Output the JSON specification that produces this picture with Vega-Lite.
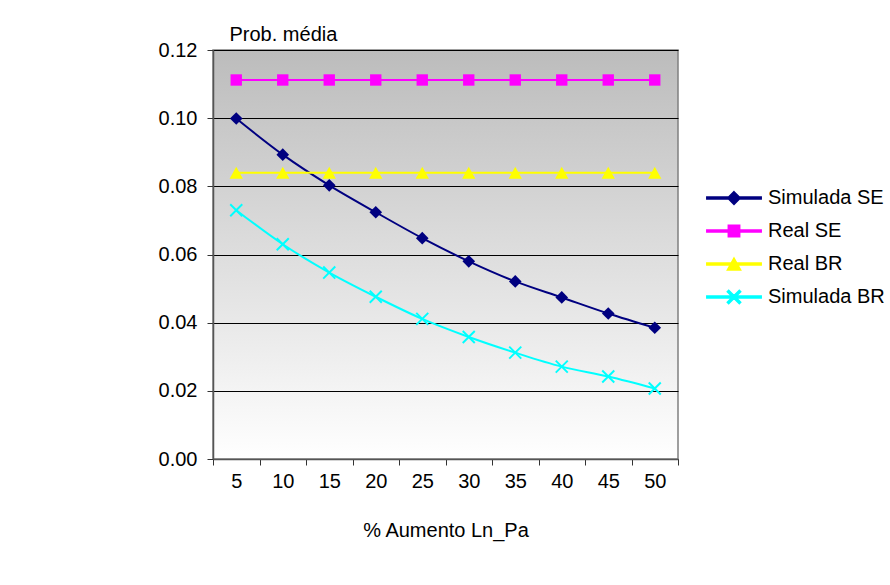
{
  "$schema": "https://vega.github.io/schema/vega-lite/v6.json",
  "autosize": "none",
  "width": 465,
  "height": 409,
  "padding": {"left": 213, "top": 50, "right": 212, "bottom": 126},
  "background": "white",
  "config": {
    "font": "Liberation Sans",
    "view": {"stroke": "#808080", "strokeWidth": 1.5, "fill": {"gradient": "linear", "x1": 0, "y1": 0, "x2": 0, "y2": 1, "stops": [{"offset": 0, "color": "#bcbcbc"}, {"offset": 1, "color": "#ffffff"}]}},
    "axis": {"labelFont": "Liberation Sans", "titleFont": "Liberation Sans", "labelColor": "black", "titleColor": "black", "labelFontSize": 20, "titleFontSize": 20, "titleFontWeight": "normal", "tickColor": "#333333", "domainColor": "#555555", "domainWidth": 1.5}
  },
  "datasets": {
    "probs": [
      {"x": "5", "series": "Simulada SE", "value": 0.0999},
      {"x": "10", "series": "Simulada SE", "value": 0.0893},
      {"x": "15", "series": "Simulada SE", "value": 0.0803},
      {"x": "20", "series": "Simulada SE", "value": 0.0724},
      {"x": "25", "series": "Simulada SE", "value": 0.0648},
      {"x": "30", "series": "Simulada SE", "value": 0.0580},
      {"x": "35", "series": "Simulada SE", "value": 0.0521},
      {"x": "40", "series": "Simulada SE", "value": 0.0474},
      {"x": "45", "series": "Simulada SE", "value": 0.0427},
      {"x": "50", "series": "Simulada SE", "value": 0.0385},
      {"x": "5", "series": "Real SE", "value": 0.1112},
      {"x": "10", "series": "Real SE", "value": 0.1112},
      {"x": "15", "series": "Real SE", "value": 0.1112},
      {"x": "20", "series": "Real SE", "value": 0.1112},
      {"x": "25", "series": "Real SE", "value": 0.1112},
      {"x": "30", "series": "Real SE", "value": 0.1112},
      {"x": "35", "series": "Real SE", "value": 0.1112},
      {"x": "40", "series": "Real SE", "value": 0.1112},
      {"x": "45", "series": "Real SE", "value": 0.1112},
      {"x": "50", "series": "Real SE", "value": 0.1112},
      {"x": "5", "series": "Real BR", "value": 0.0840},
      {"x": "10", "series": "Real BR", "value": 0.0840},
      {"x": "15", "series": "Real BR", "value": 0.0840},
      {"x": "20", "series": "Real BR", "value": 0.0840},
      {"x": "25", "series": "Real BR", "value": 0.0840},
      {"x": "30", "series": "Real BR", "value": 0.0840},
      {"x": "35", "series": "Real BR", "value": 0.0840},
      {"x": "40", "series": "Real BR", "value": 0.0840},
      {"x": "45", "series": "Real BR", "value": 0.0840},
      {"x": "50", "series": "Real BR", "value": 0.0840},
      {"x": "5", "series": "Simulada BR", "value": 0.0730},
      {"x": "10", "series": "Simulada BR", "value": 0.0630},
      {"x": "15", "series": "Simulada BR", "value": 0.0547},
      {"x": "20", "series": "Simulada BR", "value": 0.0476},
      {"x": "25", "series": "Simulada BR", "value": 0.0411},
      {"x": "30", "series": "Simulada BR", "value": 0.0358},
      {"x": "35", "series": "Simulada BR", "value": 0.0312},
      {"x": "40", "series": "Simulada BR", "value": 0.0271},
      {"x": "45", "series": "Simulada BR", "value": 0.0242},
      {"x": "50", "series": "Simulada BR", "value": 0.0207}
    ]
  },
  "data": {"name": "probs"},
  "encoding": {
    "x": {
      "field": "x", "type": "ordinal", "sort": null,
      "scale": {"type": "band", "paddingInner": 0, "paddingOuter": 0},
      "axis": {"title": "% Aumento Ln_Pa", "labelAngle": 0, "tickBand": "extent", "tickSize": 6, "labelPadding": 6, "titlePadding": 29, "grid": false}
    },
    "y": {
      "field": "value", "type": "quantitative",
      "scale": {"domain": [0, 0.12], "nice": false, "zero": true},
      "axis": {"values": [0, 0.02, 0.04, 0.06, 0.08, 0.1, 0.12], "format": ".2f", "tickSize": 6, "labelPadding": 10, "grid": true, "gridColor": "black", "gridWidth": 1, "gridOpacity": 1,
        "title": "Prob. média", "titleAngle": 0, "titleAlign": "left", "titleBaseline": "alphabetic", "titleX": 16, "titleY": -10}
    }
  },
  "layer": [
    {
      "mark": {"type": "line", "strokeWidth": 2, "interpolate": "monotone"},
      "encoding": {
        "color": {"field": "series", "type": "nominal", "scale": {"domain": ["Simulada SE", "Real SE", "Real BR", "Simulada BR"], "range": ["#000080", "#ff00ff", "#ffff00", "#00ffff"]},
          "legend": {"title": null, "orient": "none", "legendX": 511, "legendY": 138, "padding": 0, "labelFontSize": 20, "labelColor": "black", "labelFont": "Liberation Sans", "symbolSize": 160, "labelOffset": 24, "rowPadding": 13}}
      }
    },
    {
      "transform": [{"filter": "datum.series === 'Simulada SE'"}],
      "mark": {"type": "point", "filled": true, "opacity": 1, "size": 160, "color": "#000080", "shape": "M0,-1L1,0L0,1L-1,0Z"}
    },
    {
      "transform": [{"filter": "datum.series === 'Real SE'"}],
      "mark": {"type": "point", "filled": true, "opacity": 1, "size": 160, "color": "#ff00ff", "shape": "M-0.9,-0.9H0.9V0.9H-0.9Z"}
    },
    {
      "transform": [{"filter": "datum.series === 'Real BR'"}],
      "mark": {"type": "point", "filled": true, "opacity": 1, "size": 160, "color": "#ffff00", "shape": "M0,-0.95L1.05,0.95L-1.05,0.95Z"}
    },
    {
      "transform": [{"filter": "datum.series === 'Simulada BR'"}],
      "mark": {"type": "point", "filled": true, "opacity": 1, "size": 160, "color": "#00ffff", "shape": "M-0.84,-1.06L1.06,0.84L0.84,1.06L-1.06,-0.84ZM-0.84,1.06L-1.06,0.84L0.84,-1.06L1.06,-0.84Z"}
    },
    {
      "transform": [{"filter": "false"}],
      "mark": {"type": "point", "filled": true, "opacity": 1, "size": 160},
      "encoding": {
        "color": {"field": "series", "type": "nominal", "scale": {"domain": ["Simulada SE", "Real SE", "Real BR", "Simulada BR"], "range": ["#000080", "#ff00ff", "#ffff00", "#00ffff"]},
          "legend": {"title": null, "orient": "none", "legendX": 511, "legendY": 138, "padding": 0, "labelFontSize": 20, "labelColor": "black", "labelFont": "Liberation Sans", "symbolSize": 160, "labelOffset": 24, "rowPadding": 13}},
        "shape": {"field": "series", "type": "nominal", "scale": {"domain": ["Simulada SE", "Real SE", "Real BR", "Simulada BR"], "range": [
          "M-4.3,-0.16H4.3V0.16H-4.3ZM0,-1L1,0L0,1L-1,0Z",
          "M-4.3,-0.16H4.3V0.16H-4.3ZM-0.9,-0.9H0.9V0.9H-0.9Z",
          "M-4.3,-0.16H4.3V0.16H-4.3ZM0,-0.95L1.05,0.95L-1.05,0.95Z",
          "M-4.3,-0.16H4.3V0.16H-4.3ZM-0.84,-1.06L1.06,0.84L0.84,1.06L-1.06,-0.84ZM-0.84,1.06L-1.06,0.84L0.84,-1.06L1.06,-0.84Z"]},
          "legend": {"title": null, "orient": "none", "legendX": 511, "legendY": 138, "padding": 0, "labelFontSize": 20, "labelColor": "black", "labelFont": "Liberation Sans", "symbolSize": 160, "labelOffset": 24, "rowPadding": 13}}
      }
    }
  ]
}
